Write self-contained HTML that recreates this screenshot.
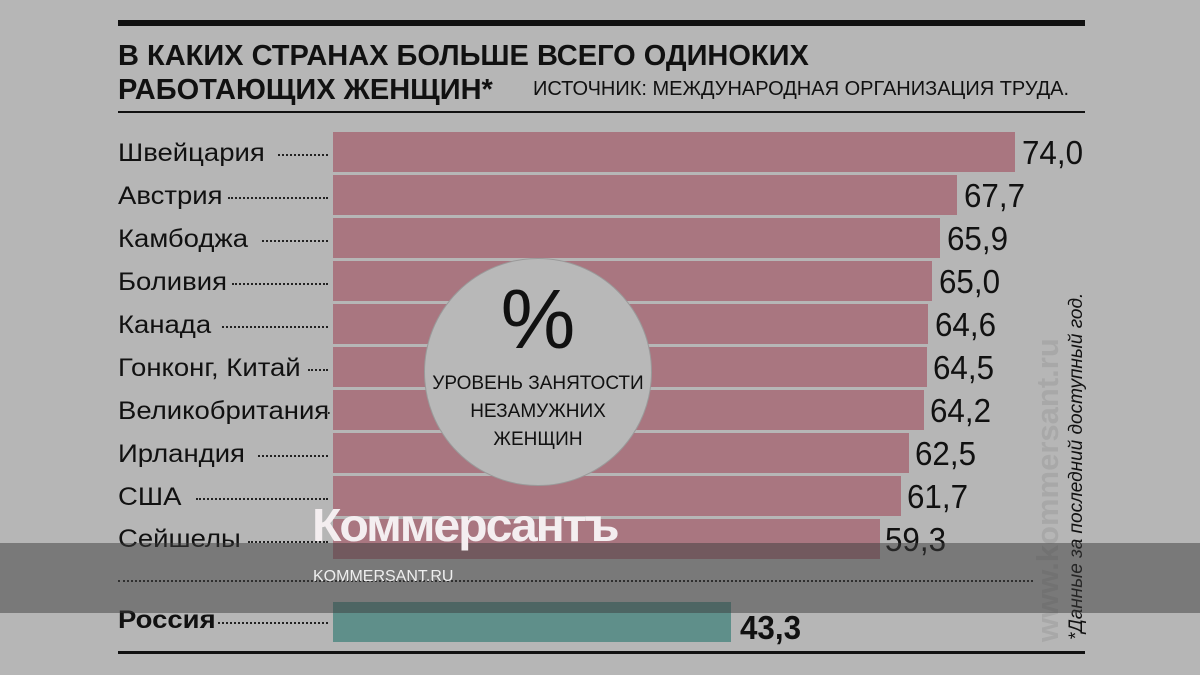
<!DOCTYPE html>
<html><head><meta charset="utf-8"><style>
body{margin:0;width:1200px;height:675px;background:#b6b6b6;position:relative;overflow:hidden;font-family:"Liberation Sans","DejaVu Sans",sans-serif;color:#111}
.a{position:absolute}
.bar{position:absolute;left:333px;height:40px;background:#a97680}
.lab{position:absolute;left:118px;font-size:25px;line-height:40px;white-space:nowrap;transform:scaleX(1.1);transform-origin:0 0}
.dots{position:absolute;border-top:2px dotted #222;height:0}
.val{position:absolute;font-size:33px;line-height:40px;transform:scaleX(0.95);transform-origin:0 0}
</style></head><body>
<div class="a" style="left:118px;top:20px;width:967px;height:6px;background:#111"></div>
<div class="a" style="left:118px;top:39px;font-size:29px;font-weight:bold;line-height:34px;white-space:nowrap">В КАКИХ СТРАНАХ БОЛЬШЕ ВСЕГО ОДИНОКИХ<br>РАБОТАЮЩИХ ЖЕНЩИН*</div>
<div class="a" style="left:533px;top:78px;font-size:20px;white-space:nowrap">ИСТОЧНИК: МЕЖДУНАРОДНАЯ ОРГАНИЗАЦИЯ ТРУДА.</div>
<div class="a" style="left:118px;top:111px;width:967px;height:2px;background:#111"></div>

<div class="bar" style="top:132px;width:682px"></div><div class="lab" style="top:133px">Швейцария</div><div class="dots" style="left:278px;width:50px;top:154px"></div><div class="val" style="left:1022px;top:133px">74,0</div>
<div class="bar" style="top:175px;width:624px"></div><div class="lab" style="top:176px">Австрия</div><div class="dots" style="left:228px;width:100px;top:197px"></div><div class="val" style="left:964px;top:176px">67,7</div>
<div class="bar" style="top:218px;width:607px"></div><div class="lab" style="top:219px">Камбоджа</div><div class="dots" style="left:262px;width:66px;top:240px"></div><div class="val" style="left:947px;top:219px">65,9</div>
<div class="bar" style="top:261px;width:599px"></div><div class="lab" style="top:262px">Боливия</div><div class="dots" style="left:232px;width:96px;top:283px"></div><div class="val" style="left:939px;top:262px">65,0</div>
<div class="bar" style="top:304px;width:595px"></div><div class="lab" style="top:305px">Канада</div><div class="dots" style="left:222px;width:106px;top:326px"></div><div class="val" style="left:935px;top:305px">64,6</div>
<div class="bar" style="top:347px;width:594px"></div><div class="lab" style="top:348px">Гонконг, Китай</div><div class="dots" style="left:308px;width:20px;top:369px"></div><div class="val" style="left:933px;top:348px">64,5</div>
<div class="bar" style="top:390px;width:591px"></div><div class="lab" style="top:391px">Великобритания</div><div class="dots" style="left:325px;width:5px;top:412px"></div><div class="val" style="left:930px;top:391px">64,2</div>
<div class="bar" style="top:433px;width:576px"></div><div class="lab" style="top:434px">Ирландия</div><div class="dots" style="left:258px;width:70px;top:455px"></div><div class="val" style="left:915px;top:434px">62,5</div>
<div class="bar" style="top:476px;width:568px"></div><div class="lab" style="top:477px">США</div><div class="dots" style="left:196px;width:132px;top:498px"></div><div class="val" style="left:907px;top:477px">61,7</div>
<div class="bar" style="top:519px;width:547px"></div><div class="lab" style="top:519px">Сейшелы</div><div class="dots" style="left:248px;width:80px;top:541px"></div><div class="val" style="left:885px;top:520px">59,3</div>

<div class="a" style="left:424px;top:258px;width:228px;height:228px;border-radius:50%;background:#b8b8b8;border:1px solid #9a9a9a;box-sizing:border-box"></div>
<div class="a" style="left:424px;top:274px;width:228px;text-align:center;font-size:84px;font-weight:300;line-height:90px">%</div>
<div class="a" style="left:424px;top:370px;width:228px;text-align:center;font-size:19px;line-height:28px">УРОВЕНЬ ЗАНЯТОСТИ<br>НЕЗАМУЖНИХ<br>ЖЕНЩИН</div>

<div class="dots" style="left:118px;width:915px;top:580px"></div>
<div class="bar" style="top:602px;width:398px;background:#5f8f8a"></div>
<div class="lab" style="top:600px;font-weight:bold">Россия</div><div class="dots" style="left:218px;width:110px;top:622px"></div>
<div class="val" style="left:740px;top:608px;font-weight:bold">43,3</div>
<div class="a" style="left:118px;top:651px;width:967px;height:3px;background:#111"></div>

<div class="a" style="left:1066px;top:640px;transform:rotate(-90deg);transform-origin:0 0;font-size:19px;font-style:italic;white-space:nowrap">*Данные за последний доступный год.</div>
<div class="a" style="left:1030px;top:642px;transform:rotate(-90deg);transform-origin:0 0;font-size:31px;font-weight:bold;color:#a8a8a8;white-space:nowrap">www.kommersant.ru</div>

<div class="a" style="left:0;top:543px;width:1200px;height:70px;background:rgba(60,60,60,0.5)"></div>
<div class="a" style="left:312px;top:498px;font-size:46px;font-weight:bold;color:#f4eef0;letter-spacing:-2px;white-space:nowrap;transform:scaleX(1.05);transform-origin:0 0">Коммерсантъ</div>
<div class="a" style="left:313px;top:568px;font-size:16px;color:#eee;white-space:nowrap">KOMMERSANT.RU</div>
</body></html>
